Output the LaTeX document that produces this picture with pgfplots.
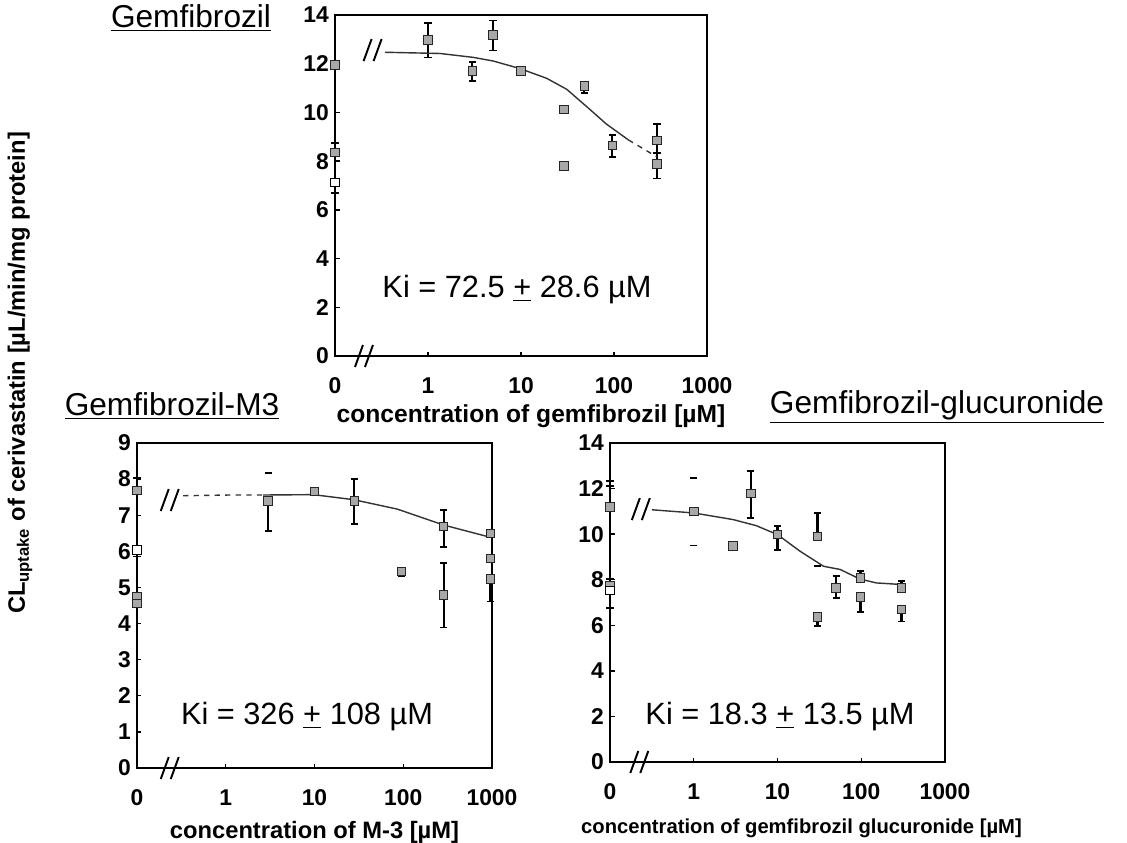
\documentclass[border=0pt]{standalone}
\usepackage{fontspec}
\setmainfont{Liberation Sans}
\usepackage{pgfplots}
\pgfplotsset{compat=1.18}

\pgfplotsset{
  gpts/.style={only marks, mark=square*, mark size=2.4pt,
    mark options={fill=gray!68, draw=black!85, line width=0.5pt},
    error bars/y dir=both, error bars/y explicit,
    error bars/error bar style={line width=1.2pt, black},
    error bars/error mark options={rotate=90, line width=1pt, mark size=2pt, black}},
  gopen/.style={gpts, mark options={fill=white, draw=black, line width=0.6pt}},
  gcaps/.style={only marks, mark=-, mark size=2pt, mark options={line width=1pt, black}},
  gfit/.style={no markers, line width=0.8pt, black!80},
}
\newcommand{\brk}[2]{%
  \draw[line width=1.1pt] ([xshift=-0.20cm,yshift=-0.22cm]axis cs:#1,#2) -- ([xshift=-0.04cm,yshift=0.22cm]axis cs:#1,#2);
  \draw[line width=1.1pt] ([xshift=0.00cm,yshift=-0.22cm]axis cs:#1,#2) -- ([xshift=0.16cm,yshift=0.22cm]axis cs:#1,#2);}

\begin{document}
\begin{tikzpicture}
\path[use as bounding box] (0,0) rectangle (22.54cm,-16.86cm);

% ---- Gemfibrozil ----
\begin{axis}[xmode=log, xmin=0.1, xmax=1000, ymin=0, ymax=14, ytick={0,2,...,14},
    scale only axis, width=7.44cm, height=6.82cm, clip=false,
    xtick={0.1,1,10,100,1000}, xticklabels={0,1,10,100,1000},
    xminorticks=false, yminorticks=false,
    tick align=inside, xtick pos=bottom, ytick pos=left,
    major tick length=0.09cm,
    axis line style={line width=1pt},
    tick style={line width=0.8pt, black},
    ticklabel style={font=\fontsize{13}{13}\bfseries\selectfont},
    xticklabel shift=9pt,
    /pgf/number format/assume math mode=true,
    xlabel={concentration of gemfibrozil [µM]},
    xlabel style={font=\fontsize{14}{14}\bfseries\selectfont,
      at={(axis description cs:0.5,0)}, anchor=center, yshift=-1.2cm, xshift=0.2cm},
    at={(6.70cm,-7.12cm)}, anchor=south west]
\addplot[gpts] coordinates {
  (0.1,11.95) (0.1,8.36) += (0,0.40) -= (0,0)
  (1,12.97) += (0,0.69) -= (0,0.71)
  (3,11.70) += (0,0.36) -= (0,0.41)
  (5,13.18) += (0,0.59) -= (0,0.64)
  (10,11.70) (29,10.13) (29,7.81)
  (48,11.09) += (0,0.17) -= (0,0.28)
  (96,8.64) += (0,0.43) -= (0,0.46)
  (290,8.84) += (0,0.68) -= (0,0.52)
  (290,7.88) += (0,0.44) -= (0,0.59)};
\addplot[gopen] coordinates {(0.1,7.12) += (0,0) -= (0,0.44)};
\addplot[gfit] coordinates {(0.345,12.47) (1.35,12.42) (3.07,12.26) (5.04,12.11)
  (9.75,11.80) (18.9,11.40) (31,10.95) (50.8,10.24) (83,9.52) (143,8.87)};
\addplot[gfit, dashed] coordinates {(143,8.87) (288,8.18)};
\brk{0.21}{0}
\brk{0.26}{12.56}
\end{axis}

% ---- Gemfibrozil-M3 ----
\begin{axis}[xmode=log, xmin=0.1, xmax=1000, ymin=0, ymax=9, ytick={0,1,...,9},
    scale only axis, width=7.10cm, height=6.50cm, clip=false,
    xtick={0.1,1,10,100,1000}, xticklabels={0,1,10,100,1000},
    xminorticks=false, yminorticks=false,
    tick align=inside, xtick pos=bottom, ytick pos=left,
    major tick length=0.09cm,
    axis line style={line width=1pt},
    tick style={line width=0.8pt, black},
    ticklabel style={font=\fontsize{13}{13}\bfseries\selectfont},
    xticklabel shift=9pt,
    /pgf/number format/assume math mode=true,
    xlabel={concentration of M-3 [µM]},
    xlabel style={font=\fontsize{13.5}{14}\bfseries\selectfont,
      at={(axis description cs:0.5,0)}, anchor=center, yshift=-1.28cm},
    at={(2.74cm,-15.36cm)}, anchor=south west]
\addplot[gpts] coordinates {
  (0.1,7.68) += (0,0.35) -= (0,0)
  (0.1,4.75) (0.1,4.56)
  (3,7.40) += (0,0) -= (0,0.83)
  (10,7.66)
  (28,7.40) += (0,0.60) -= (0,0.64)
  (96,5.44) += (0,0) -= (0,0.14)
  (285,6.69) += (0,0.46) -= (0,0.56)
  (285,4.79) += (0,0.88) -= (0,0.90)
  (955,6.50) (955,5.81)
  (955,5.23) += (0,0) -= (0,0.62)};
\addplot[gopen] coordinates {(0.1,6.04) += (0,0) -= (0,0.18)};
\addplot[gcaps] coordinates {(3,8.17)};
\addplot[gfit, dashed] coordinates {(0.33,7.54) (1.11,7.56) (2.63,7.56)};
\addplot[gfit] coordinates {(2.63,7.56) (9.7,7.57) (27.7,7.43) (85.6,7.17) (284,6.73) (955,6.39)};
\brk{0.24}{0}
\brk{0.24}{7.42}
\end{axis}

% ---- Gemfibrozil-glucuronide ----
\begin{axis}[xmode=log, xmin=0.1, xmax=1000, ymin=0, ymax=14, ytick={0,2,...,14},
    scale only axis, width=6.70cm, height=6.38cm, clip=false,
    xtick={0.1,1,10,100,1000}, xticklabels={0,1,10,100,1000},
    xminorticks=false, yminorticks=false,
    tick align=inside, xtick pos=bottom, ytick pos=left,
    major tick length=0.09cm,
    axis line style={line width=1pt},
    tick style={line width=0.8pt, black},
    ticklabel style={font=\fontsize{13}{13}\bfseries\selectfont},
    xticklabel shift=9pt,
    /pgf/number format/assume math mode=true,
    xlabel={concentration of gemfibrozil glucuronide [µM]},
    xlabel style={font=\fontsize{11.5}{12}\bfseries\selectfont,
      at={(axis description cs:0.5,0)}, anchor=center, yshift=-1.32cm, xshift=0.48cm},
    at={(12.20cm,-15.24cm)}, anchor=south west]
\addplot[gpts] coordinates {
  (0.1,11.19) += (0,1.13) -= (0,0)
  (0.1,7.75)
  (1,11.0) (2.92,9.49)
  (4.79,11.78) += (0,0.98) -= (0,1.07)
  (10,9.98) += (0,0.39) -= (0,0.66)
  (30,9.90) += (0,1.03) -= (0,0)
  (30,6.36) += (0,0) -= (0,0.38)
  (50,7.64) += (0,0.51) -= (0,0.44)
  (98,8.07) += (0,0.30) -= (0,0)
  (98,7.24) += (0,0) -= (0,0.67)
  (302,7.64) += (0,0.29) -= (0,0)
  (302,6.69) += (0,0) -= (0,0.52)};
\addplot[gopen] coordinates {(0.1,7.52) += (0,0.51) -= (0,0.76)};
\addplot[gcaps] coordinates {(1,12.46) (1,9.5) (30,8.59) (0.1,12.10)};
\addplot[gfit] coordinates {(0.316,11.07) (1,10.93) (2.95,10.64) (5.6,10.37) (10,9.98)
  (18.6,9.25) (35.5,8.59) (56,8.45) (96.6,8.03) (151,7.86) (302,7.79)};
\brk{0.23}{0}
\brk{0.24}{11.1}
\end{axis}

% ---- texts ----
\node[font=\fontsize{18}{18}\selectfont] at (3.82cm,-0.36cm) {\underline{Gemfibrozil}};
\node[font=\fontsize{18}{18}\selectfont] at (3.44cm,-8.12cm) {\underline{Gemfibrozil-M3}};
\node[font=\fontsize{18}{18}\selectfont] at (18.74cm,-8.14cm) {\underline{Gemfibrozil-glucuronide}};
\node[font=\fontsize{17.5}{18}\selectfont] at (10.34cm,-5.80cm) {Ki = 72.5 \underline{+} 28.6 µM};
\node[font=\fontsize{17.5}{18}\selectfont] at (6.14cm,-14.34cm) {Ki = 326 \underline{+} 108 µM};
\node[font=\fontsize{17.5}{18}\selectfont] at (15.60cm,-14.34cm) {Ki = 18.3 \underline{+} 13.5 µM};
\node[rotate=90, font=\fontsize{13.5}{14}\bfseries\selectfont] at (0.40cm,-7.46cm)
  {CL\textsubscript{uptake} of cerivastatin [µL/min/mg protein]};
\end{tikzpicture}
\end{document}
